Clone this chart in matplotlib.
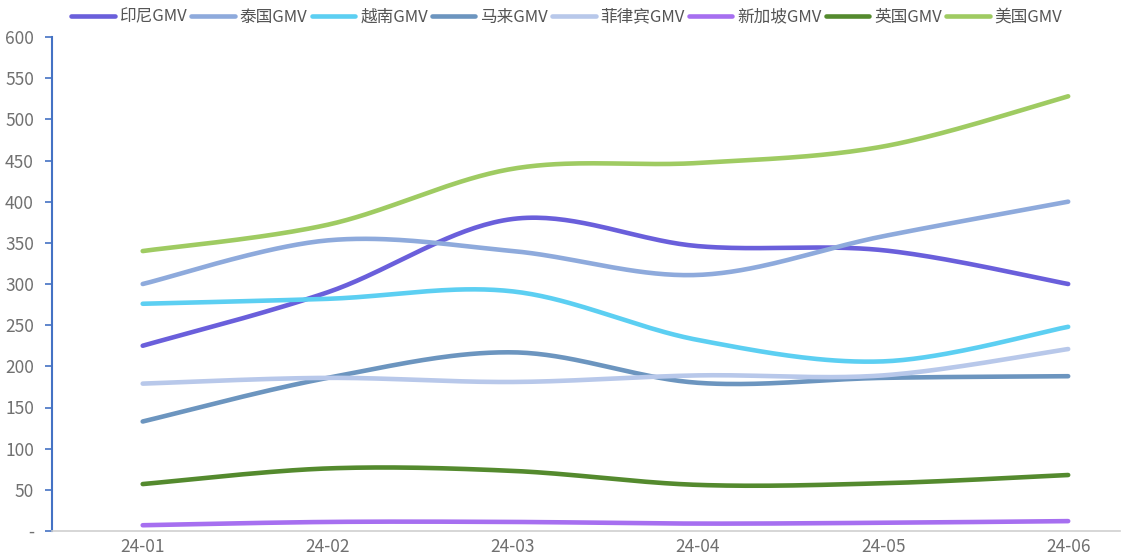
import matplotlib
matplotlib.use("Agg")
import matplotlib.pyplot as plt
import numpy as np
from matplotlib.ticker import FuncFormatter

plt.rcParams['font.family'] = ['Noto Sans CJK SC', 'DejaVu Sans']

months = ['24-01', '24-02', '24-03', '24-04', '24-05', '24-06']
names = ['印尼GMV', '泰国GMV', '越南GMV', '马来GMV', '菲律宾GMV', '新加坡GMV', '英国GMV', '美国GMV']
indonesia = [225, 290, 379, 346, 341, 300]
thailand = [300, 353, 340, 311, 358, 400]
vietnam = [276, 282, 291, 232, 206, 248]
malaysia = [133, 186, 217, 180, 186, 188]
philippines = [179, 186, 181, 189, 189, 221]
singapore = [7, 11, 11, 9, 10, 12]
uk = [57, 76, 73, 56, 58, 68]
usa = [340, 372, 440, 447, 467, 528]
series = [indonesia, thailand, vietnam, malaysia, philippines, singapore, uk, usa]
colors = ['#6A5FDB', '#8EAADC', '#5CCFF2', '#6C95BF', '#B8C8EA', '#A66FF0', '#548A2E', '#9FCB62']


def smooth(x, y, n=40):
    # uniform Catmull-Rom through every point, ends padded by repetition
    x = np.asarray(x, float)
    y = np.asarray(y, float)
    px = np.concatenate([[x[0]], x, [x[-1]]])
    py = np.concatenate([[y[0]], y, [y[-1]]])
    xs, ys = [], []
    t = np.linspace(0, 1, n)
    for i in range(1, len(px) - 2):
        for p, out in ((px, xs), (py, ys)):
            p0, p1, p2, p3 = p[i - 1], p[i], p[i + 1], p[i + 2]
            out.extend(0.5 * (2 * p1 + (-p0 + p2) * t
                              + (2 * p0 - 5 * p1 + 4 * p2 - p3) * t ** 2
                              + (-p0 + 3 * p1 - 3 * p2 + p3) * t ** 3))
    return np.array(xs), np.array(ys)


fig = plt.figure(figsize=(11.24, 5.58), dpi=100)
ax = fig.add_axes([52 / 1124, 27 / 558, 1068 / 1124, 494 / 558])

x = np.arange(len(months))
for vals, name, c in zip(series, names, colors):
    sx, sy = smooth(x, vals)
    ax.plot(sx, sy, color=c, lw=3.3, label=name, solid_capstyle='round')

ax.set_xlim(-0.49, 5.28)
ax.set_ylim(0, 600)
ax.set_yticks(np.arange(0, 601, 50))
ax.yaxis.set_major_formatter(FuncFormatter(lambda v, p: '-' if v == 0 else f'{v:.0f}'))
ax.set_xticks(x)
ax.set_xticklabels(months)

for s in ['top', 'right']:
    ax.spines[s].set_visible(False)
ax.spines['left'].set_color('#4472C4')
ax.spines['left'].set_linewidth(1.5)
ax.spines['bottom'].set_color('#D0D0D0')
ax.spines['bottom'].set_linewidth(1.2)
ax.tick_params(axis='y', colors='#4472C4', labelcolor='#707070', labelsize=12.5,
               length=5, width=1.2, direction='out', pad=8)
ax.tick_params(axis='x', length=0, labelcolor='#707070', labelsize=12.5, pad=5)

ax.legend(loc='center', bbox_to_anchor=(0.482, 1.04), ncol=8, frameon=False,
          fontsize=12, handlelength=2.6, handletextpad=0.3, columnspacing=0.25,
          labelcolor='#555555')

fig.savefig('out.png', dpi=100)
